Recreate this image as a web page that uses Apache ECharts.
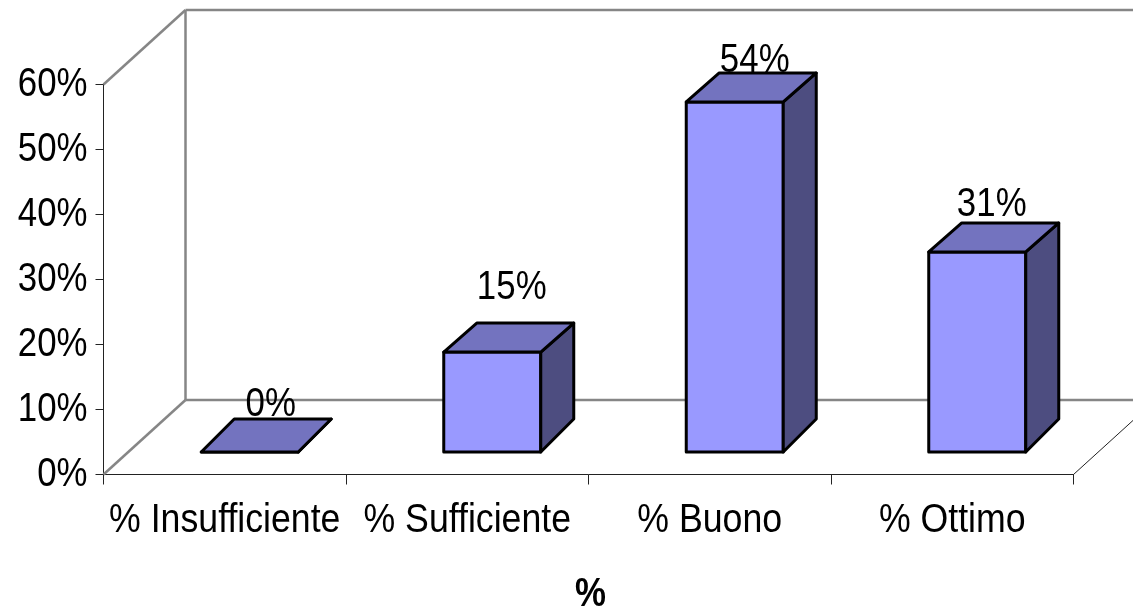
<!DOCTYPE html>
<html><head><meta charset="utf-8">
<style>html,body{margin:0;padding:0;background:#fff}#c{width:1133px;height:611px}</style>
<script src="https://cdn.jsdelivr.net/npm/echarts@6/dist/echarts.min.js"></script>
</head><body><div id="c"></div>
<script>
const categories = ['% Insufficiente', '% Sufficiente', '% Buono', '% Ottimo'];
const percentValues = [0, 15.38, 53.85, 30.77];
const yTicks = [0, 10, 20, 30, 40, 50, 60];
const yTickMax = 60;
const axisTitle = '%';

const FONT = '"Liberation Sans",Arial,sans-serif';
const FONT_PX = 41, SQUEEZE = 0.85, SQUEEZE_CAT = 0.87;
const WALL = {dx: 82, dy: 74.5};
const FLOOR = {dx: 25, dy: 22.5};
const BAR = {dx: 33, dy: 33, topInset: 4, widthRatio: 0.4};
const LABEL_LIFT = [14.5, 35, 12, 18];
const LABEL_SHIFT = [4.5, 3, 3.5, -2];
const FRONT = '#9999FF', TOP = '#7373BF', SIDE = '#4D4D80';

function squeezed(text, x, y, align, weight, sq) {
  return {type: 'text', x: x, y: y, scaleX: sq || SQUEEZE, silent: true,
    style: {text: text, x: 0, y: 0, align: align, verticalAlign: 'middle',
      font: (weight ? weight + ' ' : '') + FONT_PX + 'px ' + FONT, fill: '#000'}};
}
function poly(points, fill, z2) {
  return {type: 'polygon', z2: z2, shape: {points: points},
    style: {fill: fill, stroke: '#000', lineWidth: 3, lineJoin: 'round'}};
}
function seg(a, b, color, w) {
  return {type: 'line', shape: {x1: a[0], y1: a[1], x2: b[0], y2: b[1]},
    style: {stroke: color, lineWidth: w}, silent: true};
}
function renderWall(params, api) {
  const band = api.size([1, 0])[0];
  const first = api.coord([0, 0]), last = api.coord([categories.length - 1, 0]);
  const top = api.coord([0, yTickMax]);
  const o = [first[0] - band / 2, first[1]], t = [o[0], top[1]], r = [last[0] + band / 2, last[1]];
  const ob = [o[0] + WALL.dx, o[1] - WALL.dy], tb = [t[0] + WALL.dx, t[1] - WALL.dy];
  const rb = [r[0] + WALL.dx, r[1] - WALL.dy];
  const grey = '#868686';
  return {type: 'group', children: [
    seg(o, ob, grey, 2.5), seg(t, tb, grey, 2.5), seg(tb, ob, grey, 2.5),
    seg(tb, [rb[0], tb[1]], grey, 2.5), seg(ob, rb, grey, 2.5),
    seg(r, rb, '#222', 1)
  ]};
}
function renderBar(params, api) {
  const i = api.value(0), v = api.value(1);
  const base = api.coord([i, 0]), top = api.coord([i, v]);
  const w = api.size([1, 0])[0] * BAR.widthRatio;
  const x0 = base[0] + FLOOR.dx - w / 2, x1 = x0 + w;
  const yb = base[1] - FLOOR.dy, yt = top[1] - FLOOR.dy;
  const bx = BAR.dx, by = BAR.dy;
  const ytb = yt - by + (v > 0 ? BAR.topInset : 0);
  return {type: 'group', children: [
    squeezed(Math.round(v) + '%', (x0 + x1 + bx) / 2 + LABEL_SHIFT[i], ytb - LABEL_LIFT[i], 'center'),
    poly([[x0, yb], [x1, yb], [x1, yt], [x0, yt]], FRONT, 1),
    poly([[x1, yb], [x1 + bx, yb - by], [x1 + bx, ytb], [x1, yt]], SIDE, 2),
    poly([[x0, yt], [x1, yt], [x1 + bx, ytb], [x0 + bx, ytb]], TOP, 3)
  ]};
}
function renderYLabel(params, api) {
  const v = api.value(1), p = api.coord([0, v]), band = api.size([1, 0])[0];
  return squeezed(v + '%', p[0] - band / 2 - 16, p[1] + 0.5, 'right');
}
function renderXLabel(params, api) {
  const i = api.value(0), p = api.coord([i, 0]);
  return squeezed(categories[i], p[0], p[1] + 46, 'center', null, SQUEEZE_CAT);
}
function renderTitle(params, api) {
  const a = api.coord([0, 0]), b = api.coord([categories.length - 1, 0]);
  return squeezed(axisTitle, (a[0] + b[0]) / 2 + 2, a[1] + 120, 'center', 'bold');
}
const chart = echarts.init(document.getElementById('c'), null, {renderer: 'canvas'});
const overlay = (fn, data, z) => ({type: 'custom', z: z, silent: true, clip: false, renderItem: fn, data: data, encode: {x: 0, y: 1}});
chart.setOption({
  animation: false,
  backgroundColor: '#fff',
  grid: {left: 103.5, top: 84.5, width: 970, height: 390, containLabel: false, outerBoundsMode: 'none'},
  xAxis: {
    type: 'category', data: categories, boundaryGap: true,
    axisLine: {lineStyle: {color: '#222', width: 1}},
    axisTick: {show: true, length: 10, alignWithLabel: false, lineStyle: {color: '#222', width: 1}},
    axisLabel: {show: false}
  },
  yAxis: {
    type: 'value', min: 0, max: yTickMax, interval: 10,
    axisLine: {show: true, lineStyle: {color: '#222', width: 1}},
    axisTick: {show: true, length: 8, lineStyle: {color: '#222', width: 1}},
    axisLabel: {show: false},
    splitLine: {show: false}
  },
  series: [
    overlay(renderWall, [[0, 0]], 1),
    overlay(renderBar, percentValues.map((v, i) => [i, v]), 3),
    overlay(renderYLabel, yTicks.map(v => [0, v]), 4),
    overlay(renderXLabel, categories.map((c, i) => [i, 0]), 4),
    overlay(renderTitle, [[0, 0]], 4)
  ]
});
</script></body></html>
